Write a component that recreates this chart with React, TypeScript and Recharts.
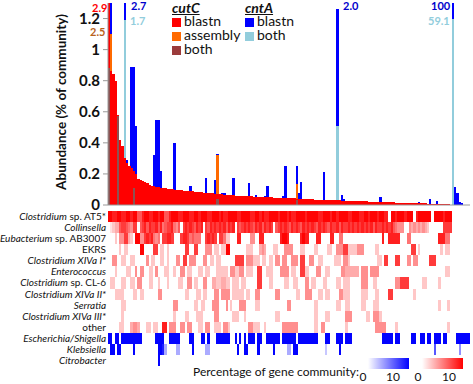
import { BarChart, Bar, XAxis, YAxis, Cell, ReferenceLine } from 'recharts'

const FONT = 'Lato, "Open Sans", sans-serif'

// cutC blastn abundance per sample (sorted), % of community
const CUTC_BLASTN = [
  2.9, 0.86, 0.84, 0.8, 0.58, 0.42, 0.38, 0.3, 0.27, 0.25,
  0.24, 0.22, 0.2, 0.17, 0.16, 0.155, 0.145, 0.14, 0.13, 0.125,
  0.12, 0.118, 0.115, 0.112, 0.11, 0.107, 0.105, 0.103, 0.1, 0.098,
  0.097, 0.095, 0.094, 0.092, 0.09, 0.089, 0.088, 0.087, 0.085, 0.084,
  0.083, 0.082, 0.08, 0.079, 0.077, 0.076, 0.075, 0.074, 0.072, 0.07,
  0.068, 0.066, 0.065, 0.064, 0.063, 0.062, 0.061, 0.06, 0.059, 0.058,
  0.057, 0.056, 0.056, 0.055, 0.054, 0.054, 0.053, 0.052, 0.052, 0.051,
  0.05, 0.049, 0.049, 0.048, 0.047, 0.047, 0.046, 0.045, 0.045, 0.044,
  0.043, 0.042, 0.042, 0.041, 0.04, 0.04, 0.039, 0.038, 0.037, 0.037,
  0.036, 0.035, 0.035, 0.034, 0.033, 0.033, 0.032, 0.031, 0.031, 0.03,
  0.03, 0.029, 0.029, 0.028, 0.028, 0.027, 0.027, 0.026, 0.026, 0.025,
  0.025, 0.024, 0.024, 0.023, 0.023, 0.022, 0.022, 0.021, 0.021, 0.02,
  0.02, 0.019, 0.019, 0.018, 0.018, 0.017, 0.017, 0.016, 0.016, 0.015,
  0.015, 0.014, 0.014, 0.013, 0.013, 0.012, 0.012, 0.011, 0.011, 0.01,
  0.01, 0.009, 0.009, 0.008, 0.008, 0.007, 0.007, 0.006, 0.006, 0.005,
  0.004, 0.003, 0.003, 0.002, 0.002, 0.001, 0.001, 0, 0, 0,
]

// [sample index, value] — only samples where the series shows up
const CNTA_BLASTN: [number, number][] = [
  [1, 1.32], [3, 0.74], [7, 1.32], [8, 0.29], [10, 0.89], [11, 0.89], [12, 0.51],
  [20, 0.32], [21, 0.55], [22, 0.55], [23, 0.22], [29, 0.4], [36, 0.12], [43, 0.175],
  [47, 0.16], [48, 0.33], [50, 0.075], [51, 0.075], [55, 0.175], [62, 0.14], [65, 0.064],
  [69, 0.058], [70, 0.12], [77, 0.055], [78, 0.25], [83, 0.25], [84, 0.075], [85, 0.146],
  [95, 0.21], [101, 1.26], [103, 0.064], [104, 0.04], [120, 0.05], [137, 0.018], [142, 0.04],
  [145, 0.028], [152, 1.31], [153, 0.114], [154, 0.075], [155, 0.02], [156, 0.01],
]
const CNTA_BOTH: [number, number][] = [[7, 1.19], [101, 0.51], [152, 1.2]]
const CUTC_ASSEMBLY: [number, number][] = [[1, 1.1], [48, 0.32], [83, 0.135]]
const CUTC_BOTH: [number, number][] = [[0, 0.88], [4, 0.57], [11, 0.11], [48, 0.04], [83, 0.03]]

const Y_TICKS = [0, 0.2, 0.4, 0.6, 0.8, 1, 1.2]

// off-scale values written above the clipped bars
const TOP_LABELS = [
  { text: '2.9', color: '#ff0000', x: 92, y: 2 },
  { text: '2.5', color: '#b8621b', x: 90, y: 26 },
  { text: '2.7', color: '#0000cc', x: 131, y: 0 },
  { text: '1.7', color: '#92cddc', x: 130, y: 15 },
  { text: '2.0', color: '#0000cc', x: 343, y: 0 },
  { text: '100', color: '#0000cc', x: 431, y: 0 },
  { text: '59.1', color: '#92cddc', x: 428, y: 15 },
]

// heatmap rows, top to bottom: [italic part, upright part]
const ROW_LABELS: [string, string][] = [
  ['Clostridium', ' sp. AT5*'],
  ['Collinsella', ''],
  ['Eubacterium', ' sp. AB3007'],
  ['', 'EKRS'],
  ['Clostridium XIVa I*', ''],
  ['Enterococcus', ''],
  ['Clostridium', ' sp. CL-6'],
  ['Clostridium XIVa II*', ''],
  ['Serratia', ''],
  ['Clostridium XIVa III*', ''],
  ['', 'other'],
  ['Escherichia/Shigella', ''],
  ['Klebsiella', ''],
  ['Citrobacter', ''],
]
const ROW_IS_BLUE = [false, false, false, false, false, false, false, false, false, false, false, true, true, true]

// % of gene community, 0..9 per sample
const HEAT_ROWS = [
  '9988998899 8996689988 9989966899 9889998899 8999889998 9889999889 9998899898 8999989998 9889999899 9998899989 9899998899 9889989998 9988099899 9899908999 9990999989 9900000000',
  '0123367765 4770678687 7868567785 4607878768 7807687878 7868780767 8787687868 7870678787 6878768787 8768787687 7868778787 8787878687 7878786544 4004343434 3200000077 7700000000',
  '0002044773 2099447878 5450778870 0078875655 5007878707 7522000880 0004400880 0000008998 0000089880 0088000088 0055000000 0000000000 0800888880 0055000000 0000008885 5000000000',
  '0000020220 0000990000 7702202000 0000770077 0004440220 2299000000 0222000343 0002200044 4400022000 0220000220 0444772222 4440000022 0000000000 0000770200 0000000202 2000000000',
  '0044002200 2200000402 2002202000 4407704440 0044022022 0000007777 0444222022 0220440440 0444077004 4002200000 2220442000 0000000002 2077000770 0044044000 0077700000 0000000000',
  '0002000022 0040440022 0400022002 0044022000 2202200022 2220442244 0222007700 2220004444 0220077220 0044002200 0004433333 3044404444 0000000000 0000000000 0000000002 2000000000',
  '0220002200 2204400022 0020002000 0220044022 0044003322 3322022202 2000007700 0220000022 0022000440 2200022000 0220222000 0044400220 0000000447 7770000002 2000002000 0000000000',
  '0002222000 0220220000 0044000000 0000220002 2022000440 4444022222 0220044000 0000440000 0002200444 0002202200 0044222000 0022200022 0000770000 0000020000 0000000000 0000000000',
  '0000002200 0000000000 0000000004 4000000022 0220004440 0040200044 4000022000 0000000004 4000000000 0220000000 0220022000 0022000222 0000000000 0000000000 0000002000 2000000000',
  '0000002000 0000000000 0000000002 0000220002 2200000440 0000022200 2000000000 0000220000 0000000000 0220002200 0000044400 0000220444 2000000000 0000000000 0000000000 0000000000',
  '0000022000 3443000220 2200880444 0044044000 2204400222 0442000000 0044222002 0000000444 4444000000 0220440000 0000020000 0000000044 4440000200 0000000000 0000000000 2000000000',
  '9909909999 9999900000 0999900999 9900009900 0990900099 9999009090 9099909900 9999990999 9990999999 9990009900 0999099900 0000000000 0999990990 0000990099 0990999099 0000999999',
  '0990990000 0900000000 0099830000 3300000900 0003300000 0000000900 9900009000 0009000003 3099000000 0000002000 0090000000 0000000000 0000000000 0000000000 0000600000 0000040000',
  '0000000000 0000000000 0090000000 0000000000 0000000000 0000000000 0000000000 0000000000 0000000000 0000000000 0000000000 0000000000 0000000000 0000000000 0000000000 0000000000',
]

const ROW_TICKS = [0.5, 1.5, 2.5, 3.5, 4.5, 5.5, 6.5, 7.5, 8.5, 9.5, 10.5, 11.5, 12.5, 13.5]

const heat = HEAT_ROWS.map((s) => s.replace(/ /g, '').split('').map(Number))
const pick = (list: [number, number][], i: number) => list.find((p) => p[0] === i)?.[1] ?? 0
const BAND = 362 / CUTC_BLASTN.length

function cellColor(d: number, blue: boolean) {
  if (!d) return 'none'
  const c = Math.round(255 - d * 28)
  return blue ? `rgb(${c},${c},255)` : `rgb(255,${c},${c})`
}

// recharts truncates bar width to whole pixels, so widen each bar back to its full band
function FullBar(props: any) {
  const { x, y, width, height, fill } = props
  if (!height || height <= 0 || fill === 'none') return null
  const cx = x + width / 2
  return <rect x={cx - BAND / 2} y={y} width={BAND + 0.05} height={height} fill={fill} shapeRendering="crispEdges" />
}
function HeatCell(props: any) {
  const { x, y, width, height, fill } = props
  if (!height || fill === 'none') return null
  const cx = x + width / 2
  return <rect x={cx - BAND / 2} y={y} width={BAND + 0.05} height={height + 0.05} fill={fill} shapeRendering="crispEdges" />
}

function RowTick({ x, y, payload }: any) {
  const idx = 13 - Math.floor(payload.value)
  const [it, up] = ROW_LABELS[idx]
  return (
    <text x={x} y={y} dy={3.5} textAnchor="end" fontSize={10} fontFamily={FONT} fill="#111">
      {it && <tspan fontStyle="italic">{it}</tspan>}
      {up && <tspan>{up}</tspan>}
    </text>
  )
}

const sw = (bg: string) => ({ display: 'inline-block', width: 9, height: 9, background: bg, marginRight: 3, verticalAlign: -1 })
const head = { fontStyle: 'italic', fontWeight: 700, textDecoration: 'underline', lineHeight: '13px' } as const

export default function App() {
  const top = CUTC_BLASTN.map((r, i) => ({
    i,
    red: r,
    blue: pick(CNTA_BLASTN, i),
    lb: pick(CNTA_BOTH, i),
    orange: pick(CUTC_ASSEMBLY, i),
    brown: pick(CUTC_BOTH, i),
  }))
  const grid = CUTC_BLASTN.map((_, i) => {
    const row: Record<string, number> = { i }
    heat.forEach((_, k) => (row['h' + k] = 1))
    return row
  })
  const axes = ['b', 'lb', 'o', 'r', 'br']

  return (
    <div style={{ position: 'absolute', left: 0, top: 0, width: 473, height: 384, background: '#fff', fontFamily: FONT, overflow: 'hidden' }}>
      <div style={{ position: 'absolute', left: 0, top: 205 }}>
        <BarChart width={473} height={165} data={grid} margin={{ top: 6, right: 3, bottom: 4, left: 0 }} barCategoryGap={0} barGap={0}>
          <XAxis dataKey="i" hide />
          <YAxis
            width={108}
            domain={[0, 14]}
            ticks={ROW_TICKS}
            interval={0}
            axisLine={false}
            tickLine={false}
            tickSize={0}
            tickMargin={2}
            tick={<RowTick />}
          />
          {heat
            .map((vals, k) => (
              <Bar key={k} dataKey={'h' + k} stackId="h" isAnimationActive={false} shape={<HeatCell />}>
                {vals.map((d, j) => (
                  <Cell key={j} fill={cellColor(d, ROW_IS_BLUE[k])} />
                ))}
              </Bar>
            ))
            .reverse()}
        </BarChart>
      </div>

      <div style={{ position: 'absolute', left: 0, top: 0 }}>
        <BarChart width={473} height={218} data={top} margin={{ top: 3, right: 3, bottom: 13, left: 66 }} barCategoryGap={0} barGap={0}>
          {axes.map((id) => (
            <XAxis key={id} xAxisId={id} dataKey="i" hide />
          ))}
          <YAxis
            width={42}
            domain={[0, 1.3]}
            allowDataOverflow
            ticks={Y_TICKS}
            interval={0}
            stroke="#999"
            tickSize={5}
            tickMargin={3}
            tick={{ fill: '#111', fontSize: 15, fontWeight: 700, fontFamily: FONT }}
          />
          <Bar xAxisId="b" dataKey="blue" fill="#0000ff" isAnimationActive={false} shape={<FullBar />} />
          <Bar xAxisId="lb" dataKey="lb" fill="#92cddc" isAnimationActive={false} shape={<FullBar />} />
          <Bar xAxisId="o" dataKey="orange" fill="#ff6a00" isAnimationActive={false} shape={<FullBar />} />
          <Bar xAxisId="r" dataKey="red" fill="#ff0000" isAnimationActive={false} shape={<FullBar />} />
          <Bar xAxisId="br" dataKey="brown" fill="#8c5252" isAnimationActive={false} shape={<FullBar />} />
          <ReferenceLine xAxisId="r" y={0} stroke="#999" />
        </BarChart>
      </div>

      <div style={{ position: 'absolute', left: 61, top: 102, transform: 'translate(-50%,-50%) rotate(-90deg)', whiteSpace: 'nowrap', fontSize: 13.5, fontWeight: 700, color: '#111' }}>
        Abundance (% of community)
      </div>

      {TOP_LABELS.map((l) => (
        <div key={l.text} style={{ position: 'absolute', left: l.x, top: l.y, color: l.color, fontSize: 11, fontWeight: 700, lineHeight: '12px' }}>
          {l.text}
        </div>
      ))}

      <div style={{ position: 'absolute', left: 172, top: 1, fontSize: 14, color: '#111', lineHeight: '14px' }}>
        <div style={head}>cutC</div>
        <div><span style={sw('#ff0000')} />blastn</div>
        <div><span style={sw('#ff6a00')} />assembly</div>
        <div><span style={sw('#9b3b3b')} />both</div>
      </div>
      <div style={{ position: 'absolute', left: 245, top: 1, fontSize: 14, color: '#111', lineHeight: '14px' }}>
        <div style={head}>cntA</div>
        <div><span style={sw('#0000ff')} />blastn</div>
        <div><span style={sw('#92cddc')} />both</div>
      </div>

      <div style={{ position: 'absolute', left: 193, top: 365, fontSize: 12, color: '#111', lineHeight: '14px' }}>Percentage of gene community:</div>
      <div style={{ position: 'absolute', left: 368, top: 358, width: 41, height: 11, background: 'linear-gradient(to right, #fff, #0000ff)' }} />
      <div style={{ position: 'absolute', left: 422, top: 358, width: 41, height: 11, background: 'linear-gradient(to right, #fff, #ff0000)' }} />
      {[
        ['0', 363],
        ['10', 393],
        ['0', 418],
        ['10', 449],
      ].map(([t, x], k) => (
        <div key={k} style={{ position: 'absolute', left: (x as number) - 10, width: 20, textAlign: 'center', top: 371, fontSize: 12, lineHeight: '12px', color: '#111' }}>
          {t}
        </div>
      ))}
    </div>
  )
}
